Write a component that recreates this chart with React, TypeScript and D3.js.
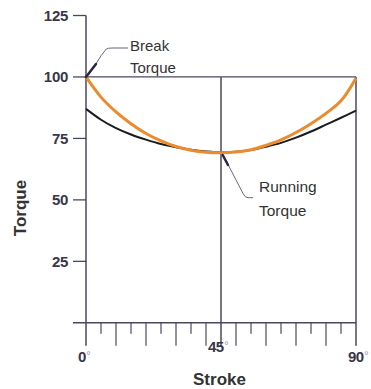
import React from "react";
import * as d3 from "d3";

const strokeDeg = [0, 5, 10, 15, 20, 25, 30, 35, 40, 45, 50, 55, 60, 65, 70, 75, 80, 85, 90];
const breakCurve = [100, 91.8, 85.8, 81.0, 77.0, 74.0, 71.7, 70.2, 69.4, 69.2, 69.5, 70.4, 72.2, 74.4, 77.4, 81.0, 85.2, 90.3, 99.5];
const runningCurve = [87.0, 82.6, 79.2, 76.6, 74.5, 72.7, 71.4, 70.4, 69.7, 69.3, 69.6, 70.3, 71.6, 73.2, 75.3, 77.8, 80.6, 83.4, 86.3];
const yTicks = [25, 50, 75, 100, 125];
const xTickLabels = [0, 45, 90];
const minorTicks = d3.range(0, 91, 5);

const W = 371;
const H = 389;

export default function App() {
  const x = d3.scaleLinear().domain([0, 90]).range([86, 356]);
  const y = d3.scaleLinear().domain([0, 125]).range([322.8, 15.5]);
  const axisColor = "#4d4660";
  const labelColor = "#3b3548";
  const font = "'Liberation Sans', Arial, sans-serif";

  const line = d3
    .line<number>()
    .x((_, i) => x(strokeDeg[i]))
    .y((d) => y(d))
    .curve(d3.curveCatmullRom.alpha(0.5));

  const y0 = y(0);
  const bottom = y0 + 23;

  return (
    <svg
      width={W}
      height={H}
      style={{ position: "absolute", left: 0, top: 0, background: "#fff" }}
      fontFamily={font}
    >
      {/* grid / frame lines */}
      <line x1={x(0)} x2={x(90)} y1={y(100)} y2={y(100)} stroke={axisColor} strokeWidth={1.3} />
      <line x1={x(45)} x2={x(45)} y1={y(100)} y2={bottom} stroke={axisColor} strokeWidth={1.5} />
      <line x1={x(90)} x2={x(90)} y1={y(100)} y2={bottom} stroke={axisColor} strokeWidth={1.5} />

      {/* y axis */}
      <line x1={x(0)} x2={x(0)} y1={y(125)} y2={bottom} stroke={axisColor} strokeWidth={1.5} />
      {yTicks.map((t) => (
        <g key={t}>
          <line x1={x(0) - 13} x2={x(0)} y1={y(t)} y2={y(t)} stroke={axisColor} strokeWidth={1.3} />
          <text
            x={x(0) - 18}
            y={y(t)}
            dy="0.36em"
            textAnchor="end"
            fontSize={15}
            fontWeight="bold"
            fill={labelColor}
            letterSpacing={-0.3}
          >
            {t}
          </text>
        </g>
      ))}

      {/* x axis */}
      <line x1={x(0) - 13} x2={x(90)} y1={y0} y2={y0} stroke={axisColor} strokeWidth={1.5} />
      {minorTicks
        .filter((d) => d !== 0 && d !== 45 && d !== 90)
        .map((d) => (
          <line
            key={d}
            x1={x(d)}
            x2={x(d)}
            y1={y0}
            y2={d % 10 === 0 ? y0 + 23 : y0 + 11}
            stroke={axisColor}
            strokeWidth={1.2}
          />
        ))}
      {xTickLabels.map((d) => (
        <text
          key={d}
          x={x(d) + (d === 45 ? -13 : -8)}
          y={d === 45 ? 352 : 362}
          textAnchor="start"
          fontSize={15}
          fontWeight="bold"
          fill={labelColor}
          letterSpacing={-0.5}
        >
          {d}
          <tspan fontSize={11} dy={-3} dx={0.5} fontWeight="normal" fill="#9a94a6">
            °
          </tspan>
        </text>
      ))}

      {/* curves */}
      <path d={line(runningCurve) || ""} fill="none" stroke="#1c1c1c" strokeWidth={2} />
      <path d={line(breakCurve) || ""} fill="none" stroke="#ec8a2e" strokeWidth={3} />

      {/* Break torque leader */}
      <path
        d={`M${x(0)},${y(100)} L96.3,63.3 Q101,55 106.3,49 Q108,48 112,48 L128,48`}
        fill="none"
        stroke="#6d667a"
        strokeWidth={1}
      />
      <line x1={x(0)} y1={y(100)} x2={96} y2={64} stroke="#2c2640" strokeWidth={2.5} strokeLinecap="round" />
      <text x={130} y={51} fontSize={15} fill="#333">Break</text>
      <text x={130} y={73} fontSize={15} fill="#333">Torque</text>

      {/* Running torque leader */}
      <path
        d={`M222.7,155 L228.3,165 L243.3,194 Q245,197.5 248,197.7 L253,197.7`}
        fill="none"
        stroke="#6d667a"
        strokeWidth={1}
      />
      <line x1={222.7} y1={155} x2={228} y2={165} stroke="#2c2640" strokeWidth={2.5} strokeLinecap="round" />
      <text x={259} y={192} fontSize={15.5} fill="#333">Running</text>
      <text x={259} y={216} fontSize={15.5} fill="#333">Torque</text>

      {/* axis titles */}
      <text x={219.5} y={385} textAnchor="middle" fontSize={17} fontWeight="bold" fill="#333">
        Stroke
      </text>
      <text
        transform={`translate(26,208) rotate(-90)`}
        textAnchor="middle"
        fontSize={17}
        fontWeight="bold"
        fill="#333"
      >
        Torque
      </text>
    </svg>
  );
}
